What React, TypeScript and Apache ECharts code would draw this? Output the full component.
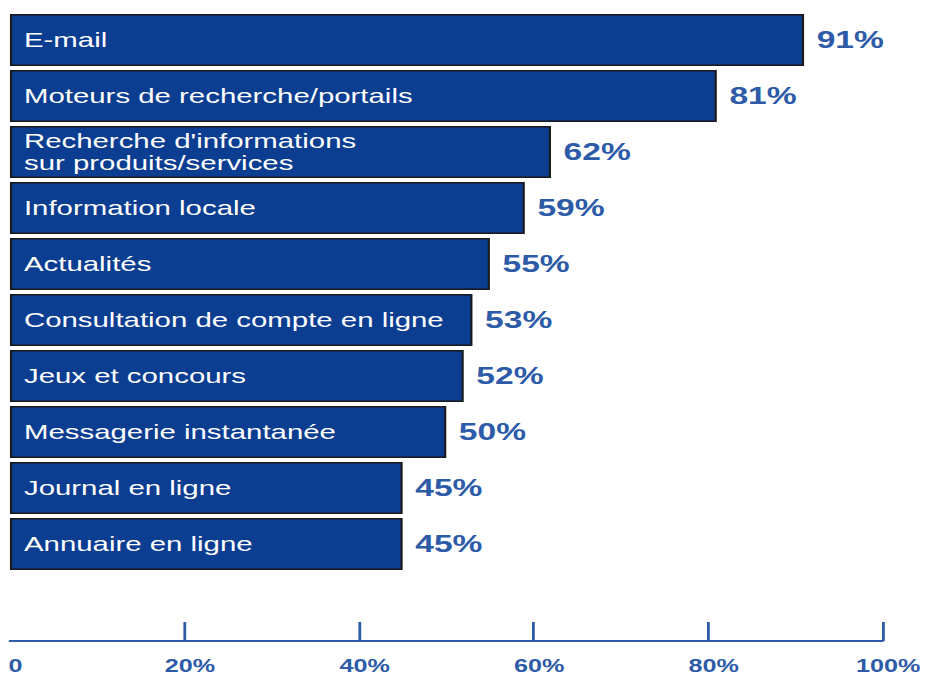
import React, { useEffect, useRef } from "react";
import * as echarts from "echarts";

const categories = [
  "E-mail",
  "Moteurs de recherche/portails",
  "Recherche d'informations\nsur produits/services",
  "Information locale",
  "Actualités",
  "Consultation de compte en ligne",
  "Jeux et concours",
  "Messagerie instantanée",
  "Journal en ligne",
  "Annuaire en ligne",
];
const values = [91, 81, 62, 59, 55, 53, 52, 50, 45, 45];
const tickValues = [0, 20, 40, 60, 80, 100];
const tickMarks = [20, 40, 60, 80, 100];

const STRETCH = 1.4;
const W = 929 / STRETCH;
const H = 675;

export default function App() {
  const ref = useRef<HTMLDivElement>(null);
  useEffect(() => {
    if (!ref.current) return;
    const chart = echarts.init(ref.current, undefined, { renderer: "svg" });
    const blue = "#2d5ba8";
    chart.setOption({
      animation: false,
      backgroundColor: "#ffffff",
      grid: { left: 7.1, right: W - 630, top: 12, bottom: 103, containLabel: false },
      xAxis: {
        type: "value",
        min: tickValues[0],
        max: tickValues[tickValues.length - 1],
        interval: 20,
        offset: 69,
        axisLine: { show: true, lineStyle: { color: blue, width: 2 } },
        axisTick: {
          show: true,
          inside: true,
          length: 19,
          customValues: tickMarks,
          lineStyle: { color: blue, width: 2 },
        },
        splitLine: { show: false },
        axisLabel: {
          color: blue,
          fontSize: 18,
          fontWeight: "bold",
          fontFamily: "Liberation Sans, Arial, sans-serif",
          margin: 16,
          padding: [0, 0, 0, 8],
          formatter: (v: number) => (v === 0 ? "0" : v + "%"),
        },
      },
      yAxis: {
        type: "category",
        data: categories,
        inverse: true,
        z: 10,
        axisLine: { show: false },
        axisTick: { show: false },
        splitLine: { show: false },
        axisLabel: {
          inside: true,
          margin: 10,
          color: "#ffffff",
          fontSize: 21,
          lineHeight: 22,
          padding: [0, 0, 3, 0],
          fontFamily: "Liberation Sans, Arial, sans-serif",
          align: "left",
        },
      },
      series: [
        {
          type: "bar",
          data: values,
          barWidth: 52,
          itemStyle: { color: "#0b3d91", borderColor: "#1a1a1a", borderWidth: 1.5 },
          label: {
            show: true,
            position: "right",
            distance: 9,
            formatter: "{c}%",
            color: blue,
            fontSize: 24,
            fontWeight: "bold",
            fontFamily: "Liberation Sans, Arial, sans-serif",
          },
        },
      ],
    });
    return () => chart.dispose();
  }, []);
  return (
    <div
      style={{
        position: "fixed",
        left: 0,
        top: 0,
        width: 929,
        height: H,
        background: "#ffffff",
        overflow: "hidden",
      }}
    >
      <div
        ref={ref}
        style={{
          width: W,
          height: H,
          transform: `scaleX(${STRETCH})`,
          transformOrigin: "0 0",
        }}
      />
    </div>
  );
}
